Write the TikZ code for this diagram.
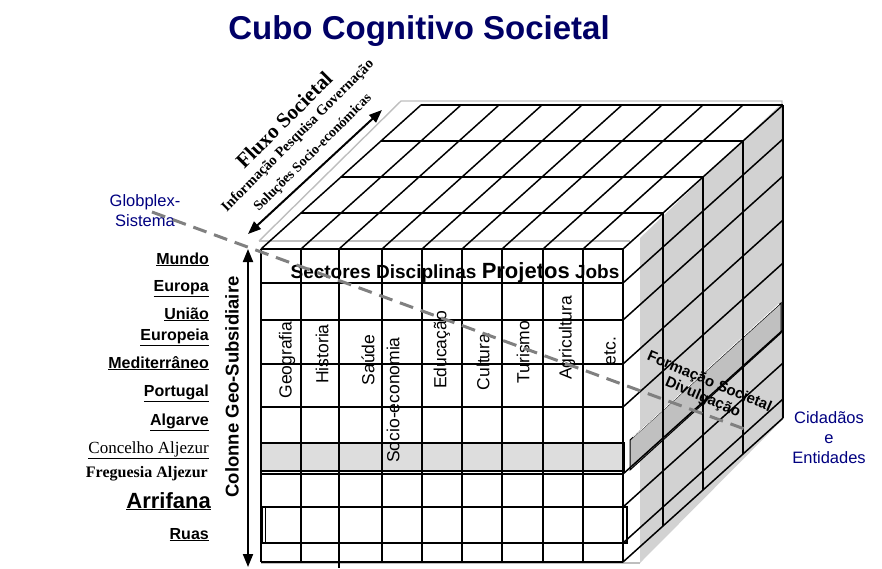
\documentclass[tikz,border=0pt]{standalone}
\usepackage{fontspec}
\setmainfont{Liberation Sans}
\newfontfamily\serifx{Liberation Serif}
\usetikzlibrary{arrows.meta}
\definecolor{navy}{RGB}{0,0,102}
\definecolor{navyb}{RGB}{0,0,128}
\definecolor{sidegray}{RGB}{210,210,210}
\definecolor{bargray}{RGB}{221,221,221}
\definecolor{slabgray}{RGB}{192,192,192}
\definecolor{outl}{RGB}{190,190,190}
\definecolor{dashg}{RGB}{128,128,128}
\tikzset{
  gridline/.style={line width=1.5pt, black},
  outline/.style={outl, line width=1.4pt},
  geolabel/.style={anchor=base east, inner sep=0pt, font=\fontsize{16}{19}\selectfont\bfseries},
  collabel/.style={rotate=90, inner sep=0pt, font=\fontsize{17.5}{20}\selectfont},
  bluelabel/.style={navyb, align=center, inner sep=0pt, font=\fontsize{16.5}{20}\selectfont},
  bigarrow/.style={line width=2pt, {Triangle[length=13pt,width=10pt]}-{Triangle[length=13pt,width=10pt]}},
  dashline/.style={dashg, line width=3pt, dash pattern=on 14pt off 8pt}
}
\begin{document}
\begin{tikzpicture}[x=1pt,y=-1pt]
\useasboundingbox (0,0) rectangle (882,568);

% title
\node[navy, anchor=base, inner sep=0pt, font=\fontsize{33}{35}\selectfont\bfseries] (title) at (419,39) {Cubo Cognitivo Societal};

% right face fill and outlines
\fill[sidegray] (640,238) -- (782,103) -- (782,420) -- (640,563) -- cycle;
\draw[outline] (259,241) -- (401,101) -- (782,101) -- (782,420);
\draw[outline] (259,241) -- (630,241);
\draw[outline] (261,563) -- (640,563);

% highlighted bar on the front
\fill[bargray] (261,443) rectangle (624,471);
\draw[line width=1.2pt] (261,443) rectangle (624,471);
\draw[line width=1.2pt] (262,507) rectangle (627,543);
\draw[line width=1pt] (265,507) -- (265,543);

% raised slab on the right face
\fill[slabgray] (630,440) -- (781,303) -- (781,333) -- (630,470) -- cycle;
\draw[line width=1pt] (630,440) -- (781,303) -- (781,333) -- (630,470) -- cycle;
\draw[white, line width=0.8pt] (633,437) -- (779,304);

% front grid
\foreach \x in {261,301,382,422,462,502,543,583,623}
  \draw[gridline] (\x,249) -- (\x,562);
\draw[gridline] (339,249) -- (339,568);
\foreach \y in {249,283,320,364,407,474,543,562}
  \draw[gridline] (261,\y) -- (623,\y);

% top face
\foreach \k in {1,...,4}
  \draw[gridline] ({261+40*\k},{249-36*\k}) -- ({623+40*\k},{249-36*\k});
\foreach \x in {261,301,339,382,422,462,502,543,583,623}
  \draw[gridline] (\x,249) -- ({\x+160},105);

% right face
\foreach \k in {1,...,4}
  \draw[gridline] ({623+40*\k},{249-36*\k}) -- ({623+40*\k},{562-36*\k});
\foreach \y in {283,320,364,407,474,507,543,562}
  \draw[gridline] (623,\y) -- (783,{\y-144});

% header and column labels
\node[inner sep=0pt, font=\fontsize{19}{22}\selectfont\bfseries] (hdr) at (455,273)
  {Sectores Disciplinas {\fontsize{22}{22}\selectfont Projetos} Jobs};
\node[collabel] (c1) at (287,360) {Geografia};
\node[collabel] (c2) at (322,354) {Historia};
\node[collabel] (c3) at (368,360) {Saúde};
\node[collabel] (c4) at (393,400) {Socio-economia};
\node[collabel] (c5) at (442,350) {Educação};
\node[collabel] (c6) at (483,362) {Cultura};
\node[collabel] (c7) at (523,352) {Turismo};
\node[collabel] (c8) at (567,338) {Agricultura};
\node[collabel] (c9) at (610,351) {etc.};

% right face label
\node[rotate=-23, align=center, inner sep=0pt, font=\fontsize{15}{17}\selectfont\bfseries] (form) at (706,390)
  {Formação Societal\\Divulgação};

% left labels
\node[geolabel] (l1) at (209,264) {\underline{Mundo}};
\node[geolabel] (l2) at (209,291) {\underline{Europa}};
\node[geolabel] (l3) at (209,319) {\underline{União}};
\node[geolabel] (l4) at (209,340) {\underline{Europeia}};
\node[geolabel] (l5) at (209,368) {\underline{Mediterrâneo}};
\node[geolabel] (l6) at (209,396) {\underline{Portugal}};
\node[geolabel] (l7) at (209,425) {\underline{Algarve}};
\node[geolabel, font=\fontsize{17}{19}\selectfont\serifx] (l8) at (209,453) {\underline{Concelho Aljezur}};
\node[geolabel, font=\fontsize{16}{19}\selectfont\serifx\bfseries] (l9) at (208,477) {Freguesia Aljezur};
\node[geolabel, font=\fontsize{22}{24}\selectfont\bfseries] (l10) at (211,508) {\underline{Arrifana}};
\node[geolabel] (l11) at (209,539) {\underline{Ruas}};

% vertical axis
\coordinate (vtop) at (248,249);
\coordinate (vbot) at (248,567);
\draw[bigarrow] (vtop) -- (vbot);
\node[rotate=90, inner sep=0pt, font=\fontsize{18.5}{20}\selectfont\bfseries] (colonne) at (232,387) {Colonne Geo-Subsidiaire};

% diagonal axis
\coordinate (dlow) at (248,234);
\coordinate (dhigh) at (382,110);
\draw[bigarrow] (dlow) -- (dhigh);
\node[rotate=45, inner sep=0pt, font=\fontsize{21}{22}\selectfont\serifx\bfseries] (fluxo) at (284,120) {Fluxo Societal};
\node[rotate=45, inner sep=0pt, font=\fontsize{14.5}{16}\selectfont\serifx\bfseries] (info) at (298,136) {Informação Pesquisa Governação};
\node[rotate=45, inner sep=0pt, font=\fontsize{14}{16}\selectfont\serifx\bfseries] (sol) at (313,153) {Soluções Socio-económicas};

% dashed line
\node[bluelabel] (glob) at (145,211) {Globplex-\\Sistema};
\coordinate (gs) at (152,212);
\coordinate (ge) at (750,431);
\draw[dashline] (gs) -- (ge);

\node[bluelabel] (cid) at (829,438) {Cidadãos\\e\\Entidades};
\end{tikzpicture}
\end{document}
